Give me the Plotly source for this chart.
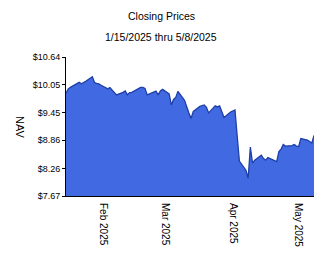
import plotly.graph_objects as go

dates = [
    "2025-01-15", "2025-01-16", "2025-01-17", "2025-01-21", "2025-01-22", "2025-01-23", "2025-01-24",
    "2025-01-27", "2025-01-28", "2025-01-29", "2025-01-30", "2025-01-31",
    "2025-02-03", "2025-02-04", "2025-02-05", "2025-02-06", "2025-02-07",
    "2025-02-10", "2025-02-11", "2025-02-12", "2025-02-13", "2025-02-14",
    "2025-02-18", "2025-02-19", "2025-02-20", "2025-02-21",
    "2025-02-24", "2025-02-25", "2025-02-26", "2025-02-27", "2025-02-28",
    "2025-03-03", "2025-03-04", "2025-03-05", "2025-03-06", "2025-03-07",
    "2025-03-10", "2025-03-11", "2025-03-12", "2025-03-13", "2025-03-14",
    "2025-03-17", "2025-03-18", "2025-03-19", "2025-03-20", "2025-03-21",
    "2025-03-24", "2025-03-25", "2025-03-26", "2025-03-27", "2025-03-28",
    "2025-03-31", "2025-04-01", "2025-04-02", "2025-04-03", "2025-04-04",
    "2025-04-07", "2025-04-08", "2025-04-09", "2025-04-10", "2025-04-11",
    "2025-04-14", "2025-04-15", "2025-04-16", "2025-04-17",
    "2025-04-21", "2025-04-22", "2025-04-23", "2025-04-24", "2025-04-25",
    "2025-04-28", "2025-04-29", "2025-04-30", "2025-05-01", "2025-05-02",
    "2025-05-05", "2025-05-06", "2025-05-07", "2025-05-08",
]

nav = [
    9.867, 9.960, 9.992, 10.099, 10.067, 10.088, 10.121,
    10.217, 10.095, 10.078, 10.067, 10.035,
    9.960, 9.988, 9.938, 9.874, 9.831,
    9.885, 9.917, 9.831, 9.880, 9.885,
    9.992, 9.992, 9.970, 9.831,
    9.895, 9.910, 9.831, 9.917, 9.949,
    9.852, 9.616, 9.734, 9.777, 9.906,
    9.713, 9.552, 9.445, 9.327, 9.477,
    9.584, 9.606, 9.616, 9.563, 9.445,
    9.595, 9.573, 9.595, 9.466, 9.348,
    9.466, 9.488, 9.509, 8.951, 8.415,
    8.221, 8.050, 8.715, 8.372, 8.436,
    8.543, 8.468, 8.436, 8.490,
    8.404, 8.618, 8.672, 8.769, 8.736,
    8.747, 8.769, 8.736, 8.726, 8.897,
    8.865, 8.833, 8.801, 8.962,
]

y_ticks = [7.67, 8.26, 8.86, 9.45, 10.05, 10.64]
y_tick_labels = ["$7.67", "$8.26", "$8.86", "$9.45", "$10.05", "$10.64"]
x_ticks = ["2025-02-01", "2025-03-01", "2025-04-01", "2025-05-01"]
x_tick_labels = ["Feb 2025", "Mar 2025", "Apr 2025", "May 2025"]

title = "Closing Prices"
subtitle = "1/15/2025 thru 5/8/2025"
y_title = "NAV"

W, H = 324, 267
ML, MR, MT, MB = 66, 10, 57, 71
PW, PH = W - ML - MR, H - MT - MB

def px_x(x):
    return (x - ML) / PW

def px_y(y):
    return (H - MB - y) / PH

FONT = "Liberation Sans, Arial, sans-serif"

fig = go.Figure()
fig.add_trace(go.Scatter(
    x=dates, y=nav, mode="lines", fill="tozeroy",
    fillcolor="#4169E1", line=dict(color="#1e3fa6", width=1.3),
    hoverinfo="skip",
))

fig.update_layout(
    width=W, height=H,
    margin=dict(l=ML, r=MR, t=MT, b=MB),
    paper_bgcolor="white", plot_bgcolor="white",
    showlegend=False,
    font=dict(family=FONT, color="black", size=10),
    xaxis=dict(
        range=[dates[0], dates[-1]], type="date",
        tickvals=x_ticks, ticktext=x_tick_labels, tickangle=90,
        showgrid=False, zeroline=False, showline=True, linecolor="black", linewidth=1,
        ticks="", ticklabelstandoff=4, tickfont=dict(size=10, family=FONT),
    ),
    yaxis=dict(
        range=[y_ticks[0], y_ticks[-1]],
        tickvals=y_ticks, ticktext=y_tick_labels,
        showgrid=False, zeroline=False, showline=True, linecolor="black", linewidth=1,
        ticks="outside", ticklen=3, tickcolor="black", tickfont=dict(size=9, family=FONT),
    ),
    annotations=[
        dict(text=title, xref="paper", yref="paper", x=px_x(W / 2 - 1), y=px_y(16),
             showarrow=False, xanchor="center", yanchor="middle", font=dict(size=10.5)),
        dict(text=subtitle, xref="paper", yref="paper", x=px_x(W / 2 - 1), y=px_y(37),
             showarrow=False, xanchor="center", yanchor="middle", font=dict(size=10.5)),
        dict(text=y_title, xref="paper", yref="paper", x=px_x(20), y=px_y(127),
             showarrow=False, xanchor="center", yanchor="middle", textangle=90,
             font=dict(size=11)),
    ],
)

fig.write_html("out.html")
